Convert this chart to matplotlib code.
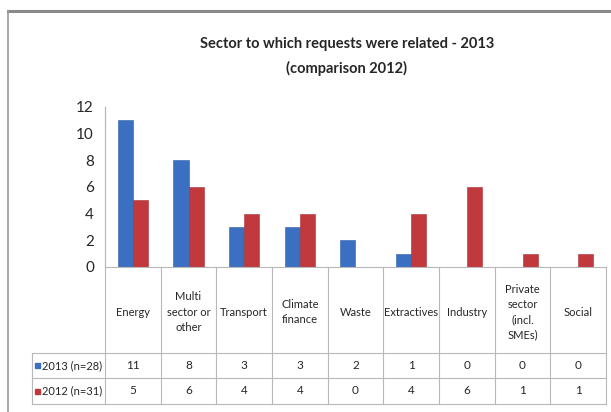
# Sector requests 2013 vs 2012, clustered columns with a data table below

import matplotlib.pyplot as plt
import matplotlib.transforms as mtransforms
from matplotlib.lines import Line2D
from matplotlib.patches import Rectangle

sectors = ['Energy', 'Multi\nsector or\nother', 'Transport', 'Climate\nfinance',
           'Waste', 'Extractives', 'Industry', 'Private\nsector\n(incl.\nSMEs)', 'Social']
requests_2013 = [11, 8, 3, 3, 2, 1, 0, 0, 0]
requests_2012 = [5, 6, 4, 4, 0, 4, 6, 1, 1]
series_names = ['2013 (n=28)', '2012 (n=31)']
y_ticks = [0, 2, 4, 6, 8, 10, 12]

BLUE = '#3b6fc2'
RED = '#c2393d'
GRID = '#b8b8b8'
TXT = '#262626'

plt.rcParams['font.family'] = ['Lato', 'DejaVu Sans']

W, H = 611, 412


def fx(px):
    return px / W


def fy(py):
    return 1 - py / H


def main():
    fig = plt.figure(figsize=(W / 100, H / 100), dpi=100)
    fig.patch.set_facecolor('white')

    # outer chart frame (only top and left edges fall inside the image)
    fig.add_artist(Line2D([fx(8), fx(611)], [fy(11), fy(11)], color='#8a8a8a', lw=2.2))
    fig.add_artist(Line2D([fx(8), fx(8)], [fy(11), fy(412)], color='#9a9a9a', lw=1.2))

    fig.text(fx(347), fy(48), 'Sector to which requests were related - 2013',
             ha='center', va='baseline', fontsize=10.5, fontweight='bold', color=TXT)
    fig.text(fx(347), fy(73), '(comparison 2012)',
             ha='center', va='baseline', fontsize=10.5, fontweight='bold', color=TXT)

    # plot area: x 105..606 px, y 107 (12) .. 267 (0)
    left, right, top, base = 105, 606, 107, 267
    ax = fig.add_axes([fx(left), fy(base), fx(right - left), (base - top) / H])
    n = len(sectors)
    xs = list(range(n))
    bw = 0.275
    ax.bar([x - bw / 2 for x in xs], requests_2013, bw, color=BLUE, edgecolor='#2f5ea8', linewidth=0.4)
    ax.bar([x + bw / 2 for x in xs], requests_2012, bw, color=RED, edgecolor='#a83034', linewidth=0.4)
    ax.set_xlim(-0.5, n - 0.5)
    ax.set_ylim(0, 12)
    ax.set_yticks(y_ticks)
    ax.set_yticklabels([str(t) for t in y_ticks], fontsize=11, color=TXT)
    ax.tick_params(axis='y', length=0, pad=8)
    ax.set_xticks([])
    for s in ['top', 'right', 'bottom']:
        ax.spines[s].set_visible(False)
    ax.spines['left'].set_color(GRID)
    ax.spines['left'].set_linewidth(0.9)
    ax.set_facecolor('none')

    # data table: column positions follow the axis scale
    tr = mtransforms.blended_transform_factory(ax.transData, fig.transFigure)
    t_top, r1, r2 = 353, 378, 404
    edges = [i - 0.5 for i in range(n + 1)]
    for e in edges:
        fig.add_artist(Line2D([e, e], [fy(base), fy(r2)], transform=tr, color=GRID, lw=0.8))
    fig.add_artist(Line2D([fx(left), fx(right)], [fy(base), fy(base)], color=GRID, lw=0.8))
    for yy in (t_top, r1, r2):
        fig.add_artist(Line2D([fx(32), fx(right)], [fy(yy), fy(yy)], color=GRID, lw=0.8))
    fig.add_artist(Line2D([fx(32), fx(32)], [fy(t_top), fy(r2)], color=GRID, lw=0.8))

    for i, name in enumerate(sectors):
        fig.text(i, fy((base + t_top) / 2 + 2), name, transform=tr, ha='center', va='center',
                 fontsize=8, color=TXT, linespacing=1.45)

    rows = [(series_names[0], requests_2013, BLUE), (series_names[1], requests_2012, RED)]
    for (label, vals, col), (ya, yb) in zip(rows, [(t_top, r1), (r1, r2)]):
        yc = fy((ya + yb) / 2)
        fig.add_artist(Rectangle((fx(35), yc - 2.5 / H), 5 / W, 5 / H, color=col, transform=fig.transFigure))
        fig.text(fx(42), yc, label, ha='left', va='center', fontsize=8, color=TXT)
        for i, v in enumerate(vals):
            fig.text(i, yc, str(v), transform=tr, ha='center', va='center', fontsize=8.5, color=TXT)

    fig.savefig('out.png', dpi=100, facecolor='white')


if __name__ == '__main__':
    main()
